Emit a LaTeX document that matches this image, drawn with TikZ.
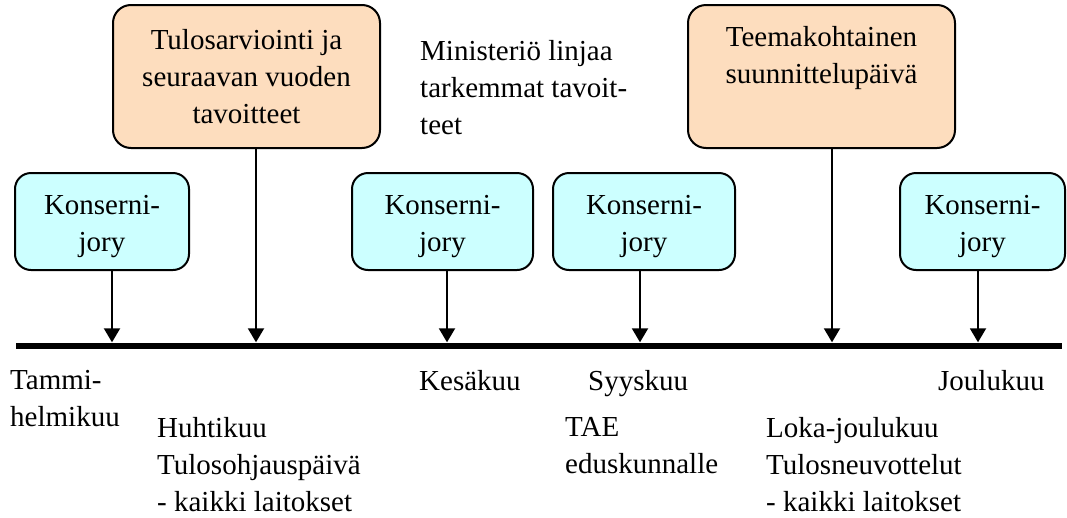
\documentclass[tikz,border=0pt]{standalone}
\usepackage{fontspec}
\setmainfont{Liberation Serif}
\usetikzlibrary{arrows.meta}

\definecolor{konsernicyan}{RGB}{204,255,255}
\definecolor{teemaorange}{RGB}{253,221,190}

\begin{document}
\begin{tikzpicture}[x=1pt, y=-1pt,
    every node/.style={font=\fontsize{29}{37}\selectfont},
    konserni/.style={draw, line width=2pt, rounded corners=16pt, fill=konsernicyan, align=center, minimum height=97pt, inner sep=0pt, text height=67pt},
    teema/.style={draw, line width=2pt, rounded corners=18pt, fill=teemaorange, align=center, minimum width=267pt, minimum height=143pt, inner sep=0pt},
    arr/.style={draw, line width=2pt, -{Triangle[width=16pt,length=14pt]}},
    lbl/.style={anchor=north west, align=left, inner sep=0pt}]
    \useasboundingbox (0,0) rectangle (1067,517);

    \node[teema] (tulos) at (246.5,76.5) {Tulosarviointi ja\\seuraavan vuoden\\tavoitteet};
    \node[teema, text depth=43pt] (teema) at (821.5,76.5) {Teemakohtainen\\suunnittelupäivä};
    \node[lbl] (minist) at (420,40) {Ministeriö linjaa\\tarkemmat tavoit-\\teet};

    \node[konserni, minimum width=174pt] (kone) at (102,221.5) {Konserni-\\jory};
    \node[konserni, minimum width=181pt] (ktwo) at (442.5,221.5) {Konserni-\\jory};
    \node[konserni, minimum width=182pt] (kthree) at (644,221.5) {Konserni-\\jory};
    \node[konserni, minimum width=165pt] (kfour) at (982.5,221.5) {Konserni-\\jory};

    \node[fill=black, inner sep=0pt, minimum width=1046pt, minimum height=6pt] (aikajana) at (539,345.5) {};

    \draw[arr] ([xshift=10pt]kone.south) -- ([xshift=10pt]kone.south |- aikajana.north);
    \draw[arr] ([xshift=9.5pt]tulos.south) -- ([xshift=9.5pt]tulos.south |- aikajana.north);
    \draw[arr] ([xshift=4.5pt]ktwo.south) -- ([xshift=4.5pt]ktwo.south |- aikajana.north);
    \draw[arr] ([xshift=-4pt]kthree.south) -- ([xshift=-4pt]kthree.south |- aikajana.north);
    \draw[arr] ([xshift=10.5pt]teema.south) -- ([xshift=10.5pt]teema.south |- aikajana.north);
    \draw[arr] ([xshift=-4.5pt]kfour.south) -- ([xshift=-4.5pt]kfour.south |- aikajana.north);

    \node[lbl] (tammi) at (10,370) {Tammi-\\helmikuu};
    \node[lbl] (kesa) at (419,370) {Kesäkuu};
    \node[lbl] (syys) at (588,370) {Syyskuu};
    \node[lbl] (joulu) at (938,370) {Joulukuu};
    \node[lbl] (huhti) at (157,417) {Huhtikuu\\Tulosohjauspäivä\\- kaikki laitokset};
    \node[lbl] (tae) at (565,417) {TAE\\eduskunnalle};
    \node[lbl] (loka) at (766,417) {Loka-joulukuu\\Tulosneuvottelut\\- kaikki laitokset};
\end{tikzpicture}
\end{document}
